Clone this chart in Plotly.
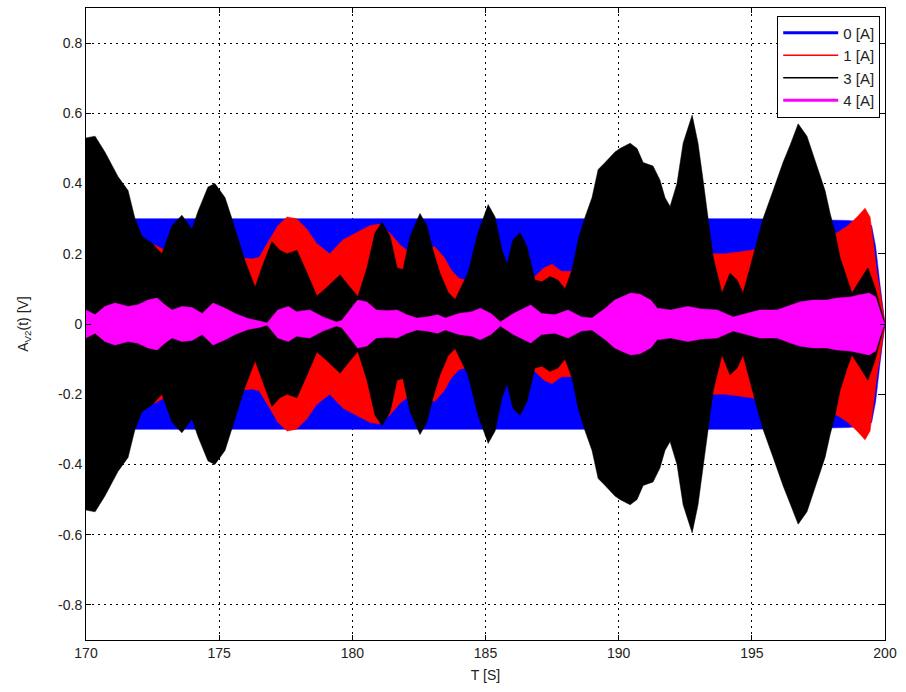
import plotly.graph_objects as go

# ---- envelope data (amplitude of the dense oscillation) ----
t_blue = [170.0, 175.0, 180.0, 185.0, 190.0, 195.0, 198.6, 199.3, 199.5, 199.65, 199.8, 200.0]
a_blue = [0.30, 0.30, 0.30, 0.30, 0.30, 0.30, 0.295, 0.29, 0.28, 0.22, 0.12, 0.0]

t_red = [170.0, 171.0, 172.0, 172.6, 173.2, 174.0, 175.0, 175.8, 176.2, 176.5, 176.9, 177.2,
         177.55, 177.9, 178.3, 178.65, 179.15, 179.65, 180.15, 180.65, 181.0, 181.4, 181.8,
         182.05, 182.6, 183.1, 183.45, 183.7, 184.0, 184.5, 185.0, 185.5, 186.0, 186.5,
         186.85, 187.2, 187.5, 187.85, 188.2, 188.5, 189.0, 190.0, 191.0, 192.0, 193.0,
         193.4, 194.0, 194.5, 195.0, 195.5, 196.5, 197.5, 198.2, 198.6, 198.95, 199.25,
         199.44, 199.55, 199.7, 199.81, 200.0]
a_red = [0.25, 0.25, 0.23, 0.225, 0.20, 0.20, 0.20, 0.19, 0.185, 0.19, 0.24, 0.28,
         0.305, 0.30, 0.27, 0.23, 0.20, 0.24, 0.26, 0.28, 0.285, 0.26, 0.225,
         0.21, 0.22, 0.22, 0.19, 0.155, 0.13, 0.12, 0.12, 0.12, 0.12, 0.12,
         0.135, 0.16, 0.17, 0.15, 0.15, 0.18, 0.20, 0.20, 0.20, 0.20, 0.20,
         0.20, 0.20, 0.205, 0.21, 0.22, 0.24, 0.25, 0.26, 0.28, 0.305, 0.33,
         0.305, 0.24, 0.145, 0.097, 0.0]

t_black = [170.0, 170.34, 170.71, 171.2, 171.58, 171.84, 172.1, 172.48, 172.85, 173.23,
           173.6, 173.98, 174.2, 174.58, 174.84, 175.22, 175.48, 175.97, 176.35, 176.6,
           176.98, 177.28, 177.55, 177.92, 178.3, 178.67, 179.05, 179.54, 179.91, 180.21,
           180.55, 180.85, 181.12, 181.42, 181.68, 181.9, 182.17, 182.54, 182.8, 183.03,
           183.29, 183.6, 183.86, 184.34, 184.72, 185.1, 185.36, 185.62, 185.81, 186.03,
           186.3, 186.56, 186.86, 187.12, 187.42, 187.72, 187.99, 188.25, 188.48, 188.74,
           189.0, 189.23, 189.49, 189.86, 190.05, 190.43, 190.69, 190.92, 191.29, 191.55,
           191.74, 191.93, 192.19, 192.42, 192.76, 192.98, 193.17, 193.36, 193.55, 193.88,
           194.18, 194.45, 194.67, 194.93, 195.2, 195.42, 195.8, 196.17, 196.44, 196.74,
           197.07, 197.45, 197.75, 197.94, 198.13, 198.31, 198.58, 198.76, 199.06, 199.36,
           199.62, 199.81, 200.0]
a_black = [0.53, 0.535, 0.49, 0.42, 0.38, 0.30, 0.25, 0.23, 0.20, 0.28,
           0.31, 0.27, 0.32, 0.39, 0.40, 0.36, 0.30, 0.18, 0.105, 0.16,
           0.235, 0.21, 0.20, 0.21, 0.145, 0.08, 0.105, 0.14, 0.105, 0.078,
           0.16, 0.26, 0.29, 0.25, 0.16, 0.155, 0.25, 0.315, 0.28, 0.21,
           0.145, 0.09, 0.07, 0.145, 0.26, 0.34, 0.305, 0.21, 0.17, 0.24,
           0.26, 0.22, 0.125, 0.12, 0.135, 0.125, 0.10, 0.155, 0.24, 0.305,
           0.36, 0.44, 0.46, 0.49, 0.50, 0.515, 0.50, 0.46, 0.45, 0.41,
           0.36, 0.335, 0.40, 0.515, 0.595, 0.515, 0.41, 0.30, 0.19, 0.088,
           0.145, 0.125, 0.088, 0.16, 0.24, 0.30, 0.38, 0.46, 0.51, 0.57,
           0.535, 0.45, 0.38, 0.315, 0.26, 0.19, 0.125, 0.088, 0.125, 0.16,
           0.105, 0.05, 0.0]

t_mag = [170.0, 170.34, 170.71, 171.09, 171.58, 171.95, 172.33, 172.67, 172.97, 173.23,
         173.6, 173.98, 174.36, 174.77, 175.22, 175.6, 176.08, 176.61, 176.8, 177.2,
         177.6, 177.9, 178.4, 178.9, 179.4, 179.6, 179.9, 180.2, 180.55, 180.9,
         181.3, 181.68, 182.05, 182.42, 182.8, 183.2, 183.5, 184.0, 184.5, 184.8,
         185.2, 185.56, 186.05, 186.7, 187.1, 187.6, 188.1, 188.6, 189.0, 189.5,
         189.85, 190.1, 190.45, 190.8, 191.2, 191.45, 191.95, 192.6, 193.1, 193.7,
         194.3, 194.8, 195.3, 195.95, 196.45, 196.8, 197.3, 197.8, 198.2, 198.7,
         199.05, 199.4, 199.65, 199.8, 199.9, 200.0]
a_mag = [0.04, 0.026, 0.05, 0.06, 0.05, 0.055, 0.068, 0.074, 0.054, 0.04,
         0.05, 0.047, 0.03, 0.06, 0.045, 0.03, 0.016, 0.008, 0.003, 0.04,
         0.05, 0.035, 0.04, 0.02, 0.006, 0.01, 0.04, 0.068, 0.063, 0.04,
         0.038, 0.04, 0.026, 0.017, 0.02, 0.026, 0.017, 0.03, 0.035, 0.045,
         0.03, 0.006, 0.03, 0.054, 0.03, 0.026, 0.04, 0.02, 0.017, 0.045,
         0.068, 0.077, 0.088, 0.085, 0.068, 0.045, 0.04, 0.05, 0.043, 0.04,
         0.02, 0.03, 0.04, 0.04, 0.054, 0.063, 0.068, 0.068, 0.074, 0.077,
         0.083, 0.088, 0.077, 0.04, 0.017, 0.0]

series = [
    ("0 [A]", "#0000ff", 3, t_blue, a_blue),
    ("1 [A]", "#ff0000", 1.5, t_red, a_red),
    ("3 [A]", "#000000", 1.5, t_black, a_black),
    ("4 [A]", "#ff00ff", 3, t_mag, a_mag),
]

x_ticks = [170, 175, 180, 185, 190, 195, 200]
y_ticks = [-0.8, -0.6, -0.4, -0.2, 0, 0.2, 0.4, 0.6, 0.8]
y_tick_text = ["-0.8", "-0.6", "-0.4", "-0.2", "0", "0.2", "0.4", "0.6", "0.8"]

fig = go.Figure()
for name, color, lw, tt, aa in series:
    xs = list(tt) + list(tt)[::-1]
    ys = list(aa) + [-v for v in aa][::-1]
    fig.add_trace(go.Scatter(x=xs, y=ys, mode="lines", fill="toself", fillcolor=color,
                             line=dict(color=color, width=0.5), showlegend=False,
                             hoverinfo="skip"))
for name, color, lw, tt, aa in series:
    fig.add_trace(go.Scatter(x=[None], y=[None], mode="lines", name=name,
                             line=dict(color=color, width=lw)))

axis_common = dict(showline=True, linecolor="black", linewidth=1, mirror="ticks",
                   ticks="inside", ticklen=5, tickcolor="black",
                   showgrid=True, gridcolor="black", gridwidth=1, griddash="2px,4px",
                   zeroline=False, tickfont=dict(family="Liberation Sans", size=14, color="#222"))

fig.update_layout(
    width=906, height=692,
    margin=dict(l=86, r=21, t=8, b=52),
    paper_bgcolor="white", plot_bgcolor="white",
    font=dict(family="Liberation Sans", size=14, color="#222"),
    xaxis=dict(range=[170, 200], tickvals=x_ticks,
               title=dict(text="T [S]", standoff=10, font=dict(size=14)), **axis_common),
    yaxis=dict(range=[-0.9, 0.9], tickvals=y_ticks, ticktext=y_tick_text,
               title=dict(text="A<sub>V2</sub>(t) [V]", standoff=26, font=dict(size=14)),
               **axis_common),
    legend=dict(x=0.994, y=0.988, xanchor="right", yanchor="top",
                bgcolor="white", bordercolor="black", borderwidth=1,
                font=dict(family="Liberation Sans", size=15, color="#222"),
                itemwidth=55, tracegroupgap=0),
    showlegend=True,
)

fig.write_html("out.html")
